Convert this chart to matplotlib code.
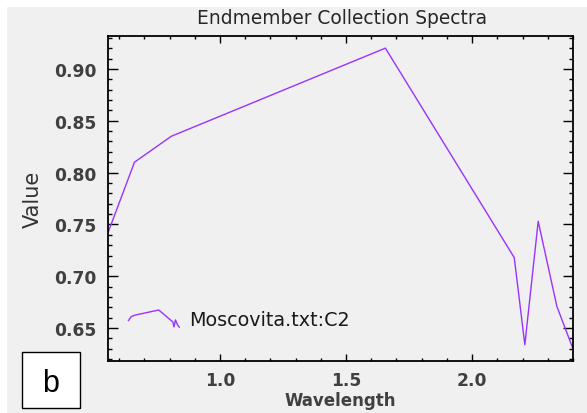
import numpy as np
import matplotlib
matplotlib.use("Agg")
import matplotlib.pyplot as plt
from matplotlib.legend_handler import HandlerBase
from matplotlib.lines import Line2D
from matplotlib.patches import Rectangle
from matplotlib.ticker import MultipleLocator

# ASTER band centres (um) and the endmember spectrum
wavelength = [0.556, 0.661, 0.807, 1.656, 2.167, 2.209, 2.262, 2.336, 2.400]
value = [0.742, 0.810, 0.835, 0.920, 0.718, 0.634, 0.753, 0.671, 0.630]
series_name = "Moscovita.txt:C2"
panel_label = "b"

BG = "#f0f0f0"
LINE = "#9933ff"
TXT = "#404040"


class SpectrumHandler(HandlerBase):
    # legend icon = the spectrum itself squeezed into the handle box
    def create_artists(self, legend, orig_handle, xdescent, ydescent,
                       width, height, fontsize, trans):
        x, y = orig_handle.get_data()
        x = np.asarray(x, float)
        y = np.asarray(y, float)
        xs = (x - x.min()) / (x.max() - x.min()) * width - xdescent
        ys = (y - y.min()) / (y.max() - y.min()) * height - ydescent
        ln = Line2D(xs, ys, color=orig_handle.get_color(),
                    lw=orig_handle.get_linewidth())
        ln.set_transform(trans)
        return [ln]


fig = plt.figure(figsize=(5.87, 4.14), dpi=100, facecolor="white")
# grey panel (thin white strip on the left and top)
fig.patches.append(Rectangle((7 / 587, 0), 1 - 7 / 587, 1 - 8 / 414,
                             transform=fig.transFigure, facecolor=BG,
                             edgecolor="none", zorder=-10))

ax = fig.add_axes([108 / 587, 52 / 414, 465 / 587, 325 / 414])
ax.set_facecolor(BG)

line, = ax.plot(wavelength, value, color=LINE, lw=1.0)

ax.set_xlim(0.556, 2.400)
ax.set_ylim(0.6183, 0.9317)

ax.xaxis.set_major_locator(MultipleLocator(0.5))
ax.xaxis.set_minor_locator(MultipleLocator(0.1))
ax.yaxis.set_major_locator(MultipleLocator(0.05))
ax.yaxis.set_minor_locator(MultipleLocator(0.01))
ax.xaxis.set_major_formatter(plt.FormatStrFormatter("%.1f"))
ax.yaxis.set_major_formatter(plt.FormatStrFormatter("%.2f"))

ax.tick_params(axis="both", which="both", direction="in", color="black",
               top=True, right=True)
ax.tick_params(axis="x", which="major", length=5, width=1.0, pad=7,
               labelsize=12.3, labelcolor=TXT)
ax.tick_params(axis="x", which="minor", length=2.5, width=1.0)
ax.tick_params(axis="y", which="major", length=7, width=1.0, pad=8,
               labelsize=12.3, labelcolor=TXT)
ax.tick_params(axis="y", which="minor", length=3, width=1.0)
for lab in ax.get_xticklabels() + ax.get_yticklabels():
    lab.set_fontweight("bold")

for sp in ax.spines.values():
    sp.set_linewidth(1.3)
    sp.set_color("black")

ax.set_xlabel("Wavelength", fontsize=12, fontweight="bold", color=TXT,
              labelpad=2)
ax.set_ylabel("Value", fontsize=15, color="#333333", labelpad=8)

fig.text(342 / 587, 1 - 19 / 414, "Endmember Collection Spectra",
         ha="center", va="center", fontsize=13.4, color="#262626")

ax.legend([line], [series_name], handler_map={Line2D: SpectrumHandler()},
          loc="lower left", bbox_to_anchor=(0.044, 0.098), frameon=False,
          fontsize=13.8, handlelength=2.65, handleheight=1.0,
          handletextpad=0.5, borderpad=0, borderaxespad=0,
          labelcolor="#1a1a1a")

# panel letter box
fig.patches.append(Rectangle((22 / 587, 5 / 414), 58 / 587, 56 / 414,
                             transform=fig.transFigure, facecolor="white",
                             edgecolor="black", lw=1.0, zorder=5))
fig.text(51 / 587, 1 - 384 / 414, panel_label, ha="center", va="center",
         fontsize=22, family="Liberation Sans", color="black", zorder=6)

fig.savefig("out.png", dpi=100, facecolor=fig.get_facecolor())
